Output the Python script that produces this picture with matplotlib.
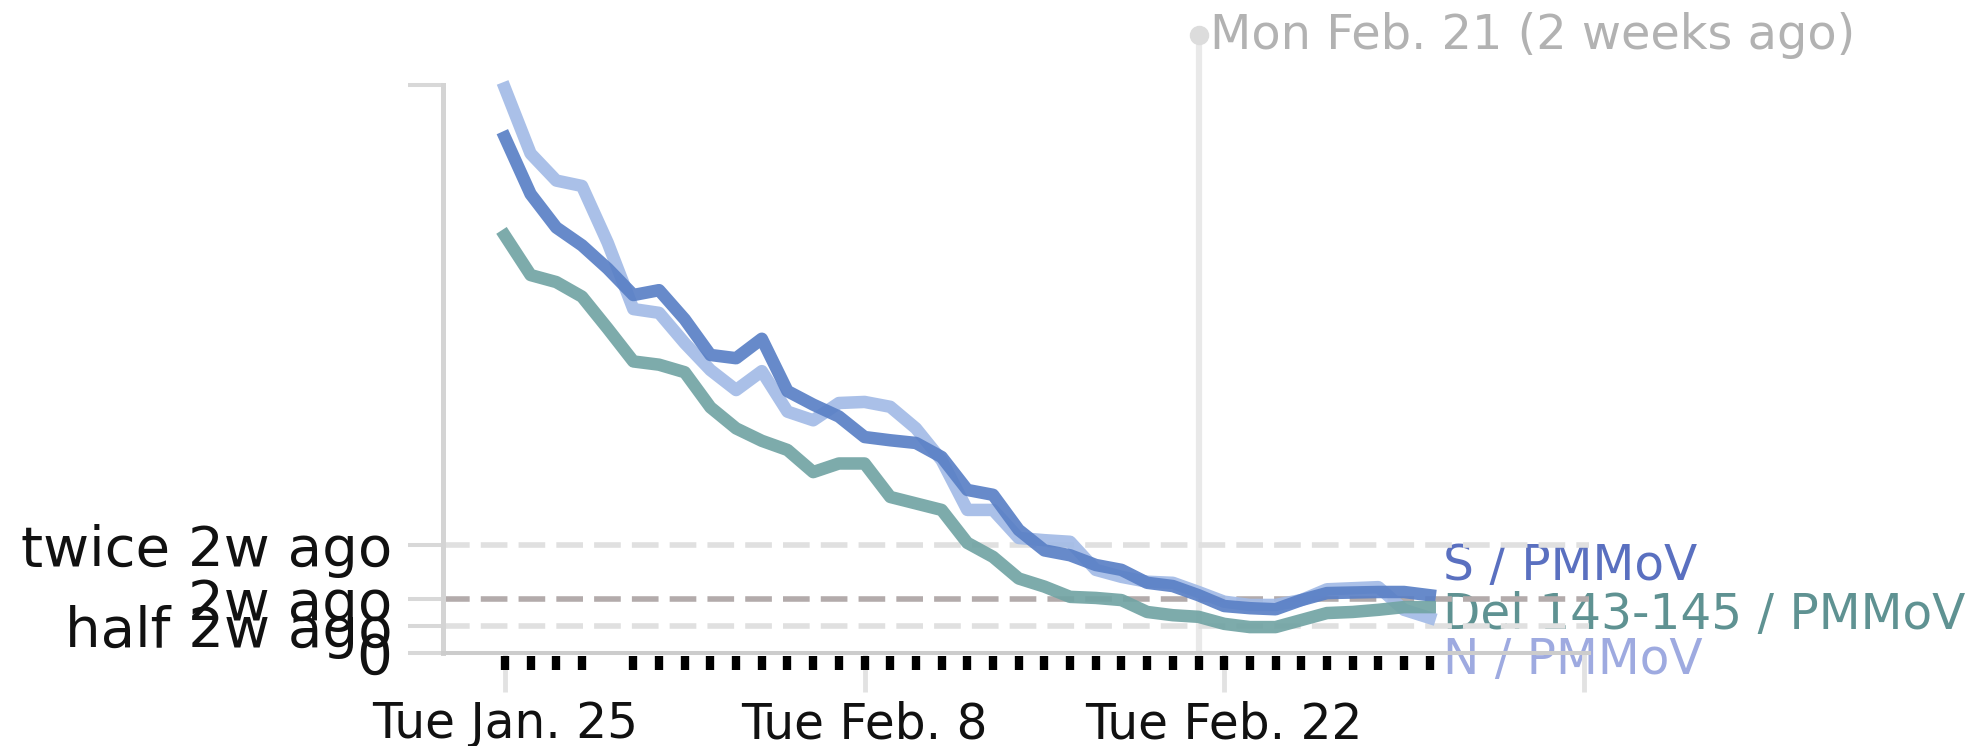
import numpy as np
import pandas as pd
import matplotlib
matplotlib.use("Agg")
import matplotlib.pyplot as plt
import matplotlib.dates as mdates

# daily samples, Tue Jan 25 2022 -> Wed Mar 2 2022
dates = pd.date_range("2022-01-25", "2022-03-02", freq="D")

# values relative to the level two weeks ago (1 = "2w ago")
n_pmmov = [10.46, 9.25, 8.75, 8.65, 7.6, 6.37, 6.3, 5.74, 5.24, 4.87, 5.22, 4.47, 4.31,
           4.63, 4.65, 4.56, 4.16, 3.57, 2.65, 2.65, 2.13, 2.09, 2.06, 1.54, 1.41, 1.32,
           1.3, 1.13, 0.95, 0.89, 0.89, 0.98, 1.18, 1.2, 1.22, 0.8, 0.65]
s_pmmov = [9.55, 8.5, 7.88, 7.55, 7.12, 6.63, 6.72, 6.18, 5.52, 5.46, 5.82, 4.85, 4.6,
           4.38, 4.0, 3.94, 3.89, 3.63, 3.02, 2.93, 2.28, 1.9, 1.81, 1.63, 1.54, 1.3,
           1.24, 1.07, 0.87, 0.83, 0.81, 0.98, 1.11, 1.12, 1.13, 1.13, 1.07]
del_pmmov = [7.73, 7.0, 6.87, 6.6, 6.01, 5.4, 5.34, 5.2, 4.55, 4.16, 3.93, 3.76, 3.35,
             3.51, 3.51, 2.89, 2.77, 2.65, 2.04, 1.78, 1.38, 1.23, 1.04, 1.02, 0.98, 0.76,
             0.7, 0.67, 0.54, 0.48, 0.48, 0.61, 0.74, 0.76, 0.8, 0.85, 0.85]

# days that have a sample (Jan 29 missing)
sample_days = [d for d in dates if d != pd.Timestamp("2022-01-29")]

# reference levels
ref_levels = [2.0, 1.0, 0.5]
ref_labels = ["twice 2w ago", "2w ago", "half 2w ago"]
ref_colors = ["#e0e0e0", "#b3abab", "#e0e0e0"]

tick_dates = pd.to_datetime(["2022-01-25", "2022-02-08", "2022-02-22", "2022-03-08"])
tick_labels = ["Tue Jan. 25", "Tue Feb. 8", "Tue Feb. 22", ""]

marker_date = pd.Timestamp("2022-02-21")
marker_text = "Mon Feb. 21 (2 weeks ago)"

series_names = ["N / PMMoV", "S / PMMoV", "Del 143-145 / PMMoV"]
line_colors = ["#a3bbe6", "#5a80c6", "#72a4a4"]
label_colors = ["#9eaae0", "#5a70c0", "#5f9292"]
label_y = [-0.13, 1.61, 0.70]

fig = plt.figure(figsize=(19.85, 7.46), dpi=100)
ax = fig.add_axes([443 / 1985, 93 / 746, 1146 / 1985, 568 / 746])

start = dates[0]
ax.set_xlim(mdates.date2num(start - pd.Timedelta(days=2.41)),
            mdates.date2num(start + pd.Timedelta(days=42.2)))
ymax = 10.52
ax.set_ylim(0, ymax)

for s in ["top", "right"]:
    ax.spines[s].set_visible(False)
ax.spines["left"].set_color("#d4d4d4")
ax.spines["left"].set_linewidth(3.6)
ax.spines["bottom"].set_color("#cccccc")
ax.spines["bottom"].set_linewidth(2.9)

# dashed reference lines
for lvl, c in zip(ref_levels, ref_colors):
    ax.axhline(lvl, color=c, lw=4, ls=(0, (4.8, 2.0)), zorder=1.5)

ax.set_yticks([0] + ref_levels + [ymax])
ax.set_yticklabels(["0"] + ref_labels + [""])
ax.tick_params(axis="y", length=25, width=2.9, color="#d8d8d8", pad=11.5,
               labelsize=40.5, labelcolor="#111111")
ax.set_xticks(mdates.date2num(tick_dates))
ax.set_xticklabels(tick_labels)
ax.tick_params(axis="x", length=28, width=3.5, color="#e2e2e2", pad=6,
               labelsize=35, labelcolor="#111111")

# "2 weeks ago" marker
mx = mdates.date2num(marker_date)
ax.plot([mx, mx], [0, 11.44], color="#e9e9e9", lw=4.5, clip_on=False, zorder=1)
ax.plot(mx, 11.44, "o", ms=13, color="#dcdcdc", clip_on=False, zorder=1)
ax.text(mx + 0.44, 11.44, marker_text, color="#b2b2b2", fontsize=34.5,
        va="center", ha="left")

# series
for vals, c in zip([n_pmmov, s_pmmov, del_pmmov], line_colors):
    ax.plot(dates, vals, color=c, lw=9, alpha=0.92, clip_on=False, zorder=3,
            solid_joinstyle="round")

# sample markers below the axis
ax.plot(sample_days, [-0.017] * len(sample_days), ls="none", marker="|", ms=10,
        mew=6, color="black", clip_on=False, transform=ax.get_xaxis_transform(),
        zorder=4)

# series labels at the right end
lx = mdates.date2num(dates[-1] + pd.Timedelta(days=0.5))
for name, c, y in zip(series_names, label_colors, label_y):
    ax.text(lx, y, name, color=c, fontsize=35, va="center", ha="left", zorder=1)

fig.savefig("out.png", dpi=100)
